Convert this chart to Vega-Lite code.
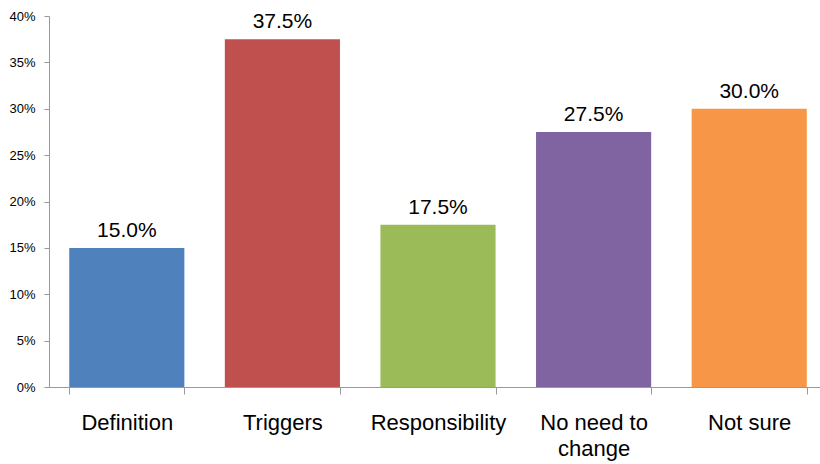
{
  "$schema": "https://vega.github.io/schema/vega-lite/v6.json",
  "width": 778,
  "height": 371,
  "autosize": "none",
  "padding": {"left": 49, "top": 16, "right": 0, "bottom": 77},
  "background": "white",
  "config": {
    "view": {"stroke": null},
    "font": "Liberation Sans"
  },
  "data": {
    "values": [
      {"category": "Definition", "value": 0.15},
      {"category": "Triggers", "value": 0.375},
      {"category": "Responsibility", "value": 0.175},
      {"category": "No need to change", "value": 0.275},
      {"category": "Not sure", "value": 0.30}
    ]
  },
  "encoding": {
    "x": {
      "field": "category",
      "type": "nominal",
      "sort": null,
      "scale": {"paddingInner": 0.26, "paddingOuter": 0.13},
      "axis": {
        "title": null,
        "labelAngle": 0,
        "labelFontSize": 22,
        "labelColor": "#000000",
        "labelBaseline": "alphabetic",
        "labelPadding": 35,
        "labelLineHeight": 26,
        "labelExpr": "datum.label == 'No need to change' ? ['No need to', 'change'] : datum.label",
        "tickBand": "extent",
        "tickSize": 7,
        "tickColor": "#999999",
        "domainColor": "#999999",
        "labelLimit": 0
      }
    },
    "y": {
      "field": "value",
      "type": "quantitative",
      "scale": {"domain": [0, 0.4]},
      "axis": {
        "title": null,
        "format": ".0%",
        "values": [0, 0.05, 0.1, 0.15, 0.2, 0.25, 0.3, 0.35, 0.4],
        "grid": false,
        "labelFontSize": 13,
        "labelColor": "#000000",
        "labelPadding": 9,
        "tickSize": 5,
        "tickColor": "#999999",
        "domainColor": "#999999"
      }
    }
  },
  "layer": [
    {
      "mark": {"type": "bar"},
      "encoding": {
        "color": {
          "field": "category",
          "type": "nominal",
          "sort": null,
          "legend": null,
          "scale": {
            "domain": ["Definition", "Triggers", "Responsibility", "No need to change", "Not sure"],
            "range": ["#4F81BD", "#C0504D", "#9BBB59", "#8064A2", "#F79646"]
          }
        }
      }
    },
    {
      "mark": {"type": "text", "baseline": "alphabetic", "dy": -11, "fontSize": 21, "color": "#000000"},
      "encoding": {
        "text": {"field": "value", "type": "quantitative", "format": ".1%"}
      }
    }
  ]
}
